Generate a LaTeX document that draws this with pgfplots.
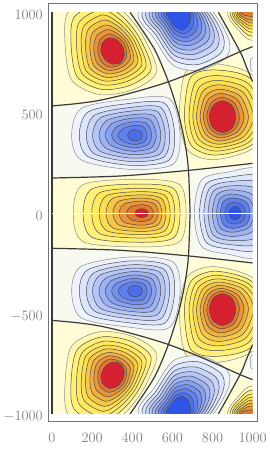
\documentclass[border=0pt]{standalone}
\usepackage{pgfplots}
\pgfplotsset{compat=1.18}
\definecolor{wb}{HTML}{FFFCD6}\definecolor{cb}{HTML}{F9FAEF}
\definecolor{wa}{HTML}{FFF9B0}\definecolor{wc}{HTML}{FFF07A}\definecolor{wd}{HTML}{FFE95F}
\definecolor{we}{HTML}{FCDC50}\definecolor{wf}{HTML}{F6C845}\definecolor{wg}{HTML}{EFB03F}
\definecolor{wh}{HTML}{E99438}\definecolor{wi}{HTML}{E07A30}\definecolor{wr}{HTML}{D42030}
\definecolor{ca}{HTML}{EEF2FC}\definecolor{cc}{HTML}{DCE5FA}\definecolor{cd}{HTML}{C8D5F8}
\definecolor{ce}{HTML}{B4C5F6}\definecolor{cf}{HTML}{9EB3F4}\definecolor{cg}{HTML}{88A1F1}
\definecolor{ch}{HTML}{7490EF}\definecolor{ci}{HTML}{6080ED}\definecolor{cj}{HTML}{4F72EB}
\definecolor{ck}{HTML}{4A6EEA}\definecolor{cl}{HTML}{2E54E8}
\definecolor{nod}{HTML}{3A3A3A}
\pgfplotsset{ct/.style={line width=.5pt,smooth cycle}}
\newcommand\M[3][black!70]{\addplot[ct,draw=#1,fill=#2]coordinates{#3};\addplot[ct,draw=#1,fill=#2,y filter/.expression={-y}]coordinates{#3};}
\newcommand\Sy[3][black!70]{\addplot[ct,draw=#1,fill=#2]coordinates{#3};}
\newcommand\Cell[2]{\addplot[draw=none,fill=#1]coordinates{#2};\addplot[draw=none,fill=#1,y filter/.expression={-y}]coordinates{#2};}
\newcommand\Nod[1]{\addplot[nod,line width=1.2pt,smooth]coordinates{#1};\addplot[nod,line width=1.2pt,smooth,y filter/.expression={-y}]coordinates{#1};}
\begin{document}
\begin{tikzpicture}
\path[use as bounding box] (0,0) rectangle (270pt,450pt);
\begin{axis}[at={(52pt,36pt)},anchor=south west,scale only axis,width=200.7pt,height=401.7pt,
  xmin=0,xmax=1000,ymin=-1000,ymax=1000,axis lines=none,ticks=none]
\addplot[draw=none,fill=wb]coordinates{(0,-1000)(1000,-1000)(1000,1000)(0,1000)};
% cold cells
\Cell{cb}{(0,175)(340,185)(680,213)(663,346)(630,496)(580,654)(400,600)(239,562)(120,545)(0,534)}
\Cell{cb}{(389,1000)(472,878)(521,796)(580,654)(760,725)(937,804)(829,1000)}
\Cell{cb}{(937,804)(968,730)(1000,654)(1000,829)}
\addplot[draw=none,fill=cb]coordinates{(680,213)(688,0)(680,-213)(1000,-248)(1000,248)};
% lobe G
\M[black!45]{wa}{(875,1000)(935,905)(1000,860)(1150,900)(1100,1100)(950,1150)}
\M{wc}{(887,1000)(940,919)(1000,881)(1142,917)(1092,1092)(955,1135)}
\M{wd}{(897,1000)(945,932)(1000,900)(1134,932)(1084,1084)(960,1121)}
\M{we}{(906,1000)(949,943)(1000,916)(1128,945)(1078,1078)(964,1110)}
\M{wf}{(915,1000)(952,953)(1000,931)(1122,957)(1072,1072)(967,1099)}
\M{wg}{(923,1000)(956,964)(1000,946)(1116,969)(1066,1066)(971,1088)}
\M{wh}{(931,1000)(959,973)(1000,960)(1110,980)(1060,1060)(974,1078)}
\M{wi}{(939,1000)(962,985)(1000,980)(1104,991)(1054,1054)(977,1068)}
% small arc, cell H
\M[black!45]{ca}{(990,740)(1000,775)(1100,740)(1000,705)}
% lobe A
\M[black!45]{wa}{(65,845)(80,1000)(230,1080)(359,1000)(455,878)(522,704)(405,615)(239,590)(98,662)}
\M{wc}{(95,839)(110,975)(240,1045)(353,977)(437,871)(494,718)(393,638)(248,616)(125,680)}
\M{wd}{(122,834)(137,953)(248,1014)(347,957)(422,865)(469,731)(382,659)(256,638)(149,696)}
\M{we}{(146,830)(160,933)(256,987)(342,939)(409,860)(448,741)(372,677)(263,658)(170,709)}
\M{wf}{(167,826)(181,916)(262,962)(338,923)(396,855)(428,751)(363,693)(269,676)(189,722)}
\M{wg}{(189,822)(202,898)(269,937)(333,907)(384,850)(408,761)(355,710)(276,694)(208,734)}
\M{wh}{(208,819)(222,882)(276,914)(329,892)(373,845)(390,770)(347,725)(281,711)(225,746)}
\M{wi}{(228,815)(241,865)(282,892)(325,877)(361,841)(372,780)(339,740)(287,727)(243,758)}
\M{wr}{(244,807)(252,849)(282,872)(322,864)(352,830)(360,784)(340,750)(302,742)(264,765)}
% lobe B
\M[black!45]{wa}{(635,480)(667,705)(804,745)(1000,687)(1120,479)(1000,321)(804,266)(675,315)}
\M{wc}{(660,480)(690,676)(812,713)(990,670)(1085,478)(990,336)(812,289)(695,336)}
\M{wd}{(683,480)(713,648)(819,685)(978,645)(1055,478)(978,351)(819,309)(716,351)}
\M{we}{(702,480)(732,625)(825,661)(965,622)(1028,477)(965,365)(825,327)(734,365)}
\M{wf}{(720,480)(749,604)(830,639)(952,602)(1004,477)(952,378)(830,343)(751,378)}
\M{wg}{(738,480)(765,584)(836,617)(937,583)(979,476)(937,392)(836,359)(766,392)}
\M{wh}{(754,480)(779,566)(841,596)(923,566)(957,476)(923,404)(841,374)(779,404)}
\M{wi}{(771,480)(793,549)(846,576)(908,549)(934,475)(908,415)(846,389)(793,415)}
\M{wr}{(784,480)(803,536)(850,559)(897,536)(916,480)(897,424)(850,401)(803,424)}
% lobe C
\Sy[black!45]{wa}{(106,0)(157,143)(447,168)(635,143)(668,0)(635,-143)(447,-168)(157,-143)}
\Sy{wc}{(155,0)(202,122)(447,145)(607,122)(638,0)(607,-122)(447,-145)(202,-122)}
\Sy{wd}{(198,0)(240,103)(447,124)(584,103)(612,0)(584,-103)(447,-124)(240,-103)}
\Sy{we}{(235,0)(273,88)(447,107)(563,88)(589,0)(563,-88)(447,-107)(273,-88)}
\Sy{wf}{(269,0)(303,74)(447,91)(545,74)(568,0)(545,-74)(447,-91)(303,-74)}
\Sy{wg}{(303,0)(333,59)(447,75)(527,59)(548,0)(527,-59)(447,-75)(333,-59)}
\Sy{wh}{(334,0)(360,46)(447,60)(510,46)(529,0)(510,-46)(447,-60)(360,-46)}
\Sy{wi}{(371,0)(391,31)(447,42)(491,31)(506,0)(491,-31)(447,-42)(391,-31)}
\Sy{wr}{(414,0)(424,16)(447,22)(470,16)(480,0)(470,-16)(447,-22)(424,-16)}
% lobe D
\M[black!45]{ca}{(98,388)(145,521)(372,566)(584,571)(638,396)(604,244)(389,218)(145,265)}
\M{cc}{(136,388)(180,504)(377,545)(562,547)(611,395)(580,262)(392,238)(180,281)}
\M{cd}{(171,388)(212,488)(382,525)(542,526)(586,394)(557,279)(395,257)(212,295)}
\M{ce}{(202,388)(240,474)(386,507)(524,506)(564,393)(537,294)(397,274)(240,308)}
\M{cf}{(234,388)(270,460)(390,489)(505,486)(542,393)(516,310)(400,291)(270,322)}
\M{cg}{(265,388)(298,446)(394,472)(487,467)(519,392)(496,326)(402,308)(298,335)}
\M{ch}{(297,388)(325,432)(398,454)(470,448)(497,391)(477,340)(405,325)(325,347)}
\M{ci}{(329,388)(351,419)(403,436)(454,431)(474,390)(459,354)(407,342)(351,359)}
\M{ck}{(377,388)(388,408)(414,416)(440,408)(451,388)(440,368)(414,360)(388,368)}
% lobe E
\M[black!45]{ca}{(430,1000)(510,870)(605,735)(740,712)(868,775)(882,860)(804,1000)(620,1200)}
\M{cc}{(450,1000)(521,883)(607,762)(727,740)(841,797)(855,875)(788,1000)(621,1180)}
\M{cd}{(468,1000)(532,894)(609,786)(716,766)(817,817)(830,888)(773,1000)(623,1162)}
\M{ce}{(485,1000)(541,905)(610,809)(705,790)(794,836)(807,901)(759,1000)(624,1145)}
\M{cf}{(500,1000)(550,915)(612,830)(695,812)(773,854)(786,912)(746,1000)(625,1130)}
\M{cg}{(516,1000)(559,925)(613,851)(685,834)(752,871)(765,924)(733,1000)(626,1115)}
\M{ch}{(530,1000)(567,934)(614,870)(676,854)(733,886)(746,935)(722,1000)(627,1101)}
\M{ci}{(544,1000)(575,943)(616,889)(667,874)(714,902)(726,945)(710,1000)(628,1087)}
\M{cj}{(558,1000)(583,952)(617,908)(658,894)(695,918)(707,956)(698,1000)(629,1073)}
\M{cl}{(571,1000)(590,960)(618,925)(650,912)(678,932)(690,965)(688,1000)(630,1060)}
% lobe F
\Sy[black!45]{ca}{(709,0)(745,165)(880,205)(1040,215)(1120,0)(1040,-215)(880,-205)(745,-165)}
\Sy{cc}{(735,0)(767,144)(885,179)(1035,180)(1093,0)(1035,-180)(885,-179)(767,-144)}
\Sy{cd}{(757,0)(786,125)(889,157)(1030,150)(1070,0)(1030,-150)(889,-157)(786,-125)}
\Sy{ce}{(778,0)(804,109)(893,136)(1020,120)(1049,0)(1020,-120)(893,-136)(804,-109)}
\Sy{cf}{(799,0)(821,92)(897,116)(998,92)(1027,0)(998,-92)(897,-116)(821,-92)}
\Sy{cg}{(820,0)(839,75)(900,95)(982,71)(1006,0)(982,-71)(900,-95)(839,-75)}
\Sy{ci}{(839,0)(855,59)(904,76)(968,56)(987,0)(968,-56)(904,-76)(855,-59)}
\Sy{cj}{(861,0)(874,41)(908,54)(950,39)(963,0)(950,-39)(908,-54)(874,-41)}
\Sy{cl}{(882,0)(892,24)(912,33)(933,24)(942,0)(933,-24)(912,-33)(892,-24)}
% nodal lines
\Nod{(0,175)(340,185)(680,213)(1000,248)}
\Nod{(0,534)(120,545)(239,562)(400,600)(580,654)(760,725)(937,804)(1000,829)}
\Nod{(389,1000)(472,878)(521,796)(580,654)(630,496)(663,346)(680,213)(688,0)}
\Nod{(829,1000)(937,804)(968,730)(1000,654)}
\end{axis}
\begin{axis}[at={(48.3pt,28pt)},anchor=south west,scale only axis,width=209pt,height=418.7pt,
  xmin=-18.5,xmax=1023,ymin=-1040,ymax=1045,clip=false,
  axis line style={draw=black!55,line width=1pt},
  xtick={0,200,400,600,800,1000},ytick={-1000,-500,0,500,1000},
  major tick length=0pt,scaled ticks=false,
  /pgf/number format/1000 sep={},
  tick label style={text=black!50,font=\fontsize{15.5}{18}\selectfont},
  xticklabel style={yshift=-8pt},
  yticklabel style={yshift=-2.5pt,xshift=-2pt}]
\addplot[nod,line width=2pt]coordinates{(0,-1000)(0,1000)};
\addplot[white,line width=1pt]coordinates{(2,0)(1000,0)};
\end{axis}
\end{tikzpicture}
\end{document}
